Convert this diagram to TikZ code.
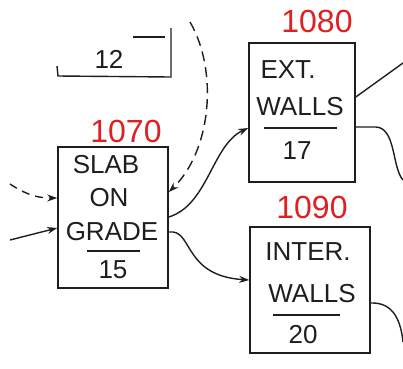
\documentclass[tikz,border=0pt]{standalone}
\usepackage{fontspec}
\setmainfont{Liberation Sans}
\usetikzlibrary{arrows.meta,calc}
\definecolor{inkred}{RGB}{222,32,32}
\definecolor{ink}{RGB}{30,30,30}
\tikzset{
  box/.style={draw=ink, line width=1.6pt, inner sep=0pt},
  lbl/.style={text=ink, font=\fontsize{26}{28}\selectfont, inner sep=0pt},
  num/.style={text=inkred, font=\fontsize{32}{34}\selectfont, inner sep=0pt},
  wire/.style={draw=ink, line width=1.4pt},
  arr/.style={wire, -{Stealth[length=10pt,width=7pt]}},
  uline/.style={draw=ink, line width=1.8pt}
}
\begin{document}
\begin{tikzpicture}[x=1pt,y=-1pt]
\useasboundingbox (0,0) rectangle (403,368);
% partial box 12
\draw[wire] (57,66) -- (58,76) -- (171,77) -- (171,28);
\draw[wire] (133,37) -- (165,37);
\node[lbl] (n12) at (109,59) {12};
% boxes
\node[box, minimum width=110, minimum height=141] (slab) at (113,217.5) {};
\node[box, minimum width=106, minimum height=139] (ext) at (302,112.5) {};
\node[box, minimum width=120, minimum height=126] (inter) at (310,290) {};
% numbers
\node[num] (c1070) at (126,131) {1070};
\node[num] (c1080) at (317,21) {1080};
\node[num] (c1090) at (312,207) {1090};
% slab text
\node[lbl] (t1) at (106,165) {SLAB};
\node[lbl] (t2) at (109,198) {ON};
\node[lbl] (t3) at (112,232) {GRADE};
\draw[uline] (87,251) -- (140,251);
\node[lbl] (t4) at (113,270) {15};
% ext walls text
\node[lbl] (e1) at (288,70) {EXT.};
\node[lbl] (e2) at (300,107) {WALLS};
\draw[uline] (264,128) -- (337,128);
\node[lbl] (e3) at (297,151) {17};
% inter walls text
\node[lbl] (i1) at (308,252) {INTER.};
\node[lbl] (i2) at (312,294) {WALLS};
\draw[uline] (273,315) -- (340,315);
\node[lbl] (i3) at (303,335) {20};
% free ends
\coordinate (dtop) at (190,22);
\coordinate (lin1) at (10,184);
\coordinate (lin2) at (10,240);
\coordinate (eout1) at (403,63);
\coordinate (eout2) at (403,180);
\coordinate (iout) at (403,342);
% connectors
\draw[arr, dashed, dash pattern=on 10pt off 6pt] (dtop) .. controls (218,70) and (212,150) .. (slab.east |- 0,192);
\draw[arr, dashed, dash pattern=on 8pt off 6pt] (lin1) .. controls (28,196) and (40,198) .. (slab.west |- 0,198);
\draw[arr] (lin2) -- (slab.west |- 0,228);
\draw[arr] (slab.east |- 0,217) .. controls (208,205) and (212,145) .. (ext.west |- 0,128);
\draw[arr] (slab.east |- 0,232) -- (173,232) .. controls (192,234) and (186,276) .. (inter.west |- 0,280);
\draw[wire] (ext.east |- 0,97) -- (eout1);
\draw[wire] (ext.east |- 0,127) -- (376,127) .. controls (396,128) and (392,168) .. (eout2);
\draw[wire] (inter.east |- 0,303) .. controls (394,302) and (401,322) .. (iout);
\end{tikzpicture}
\end{document}
